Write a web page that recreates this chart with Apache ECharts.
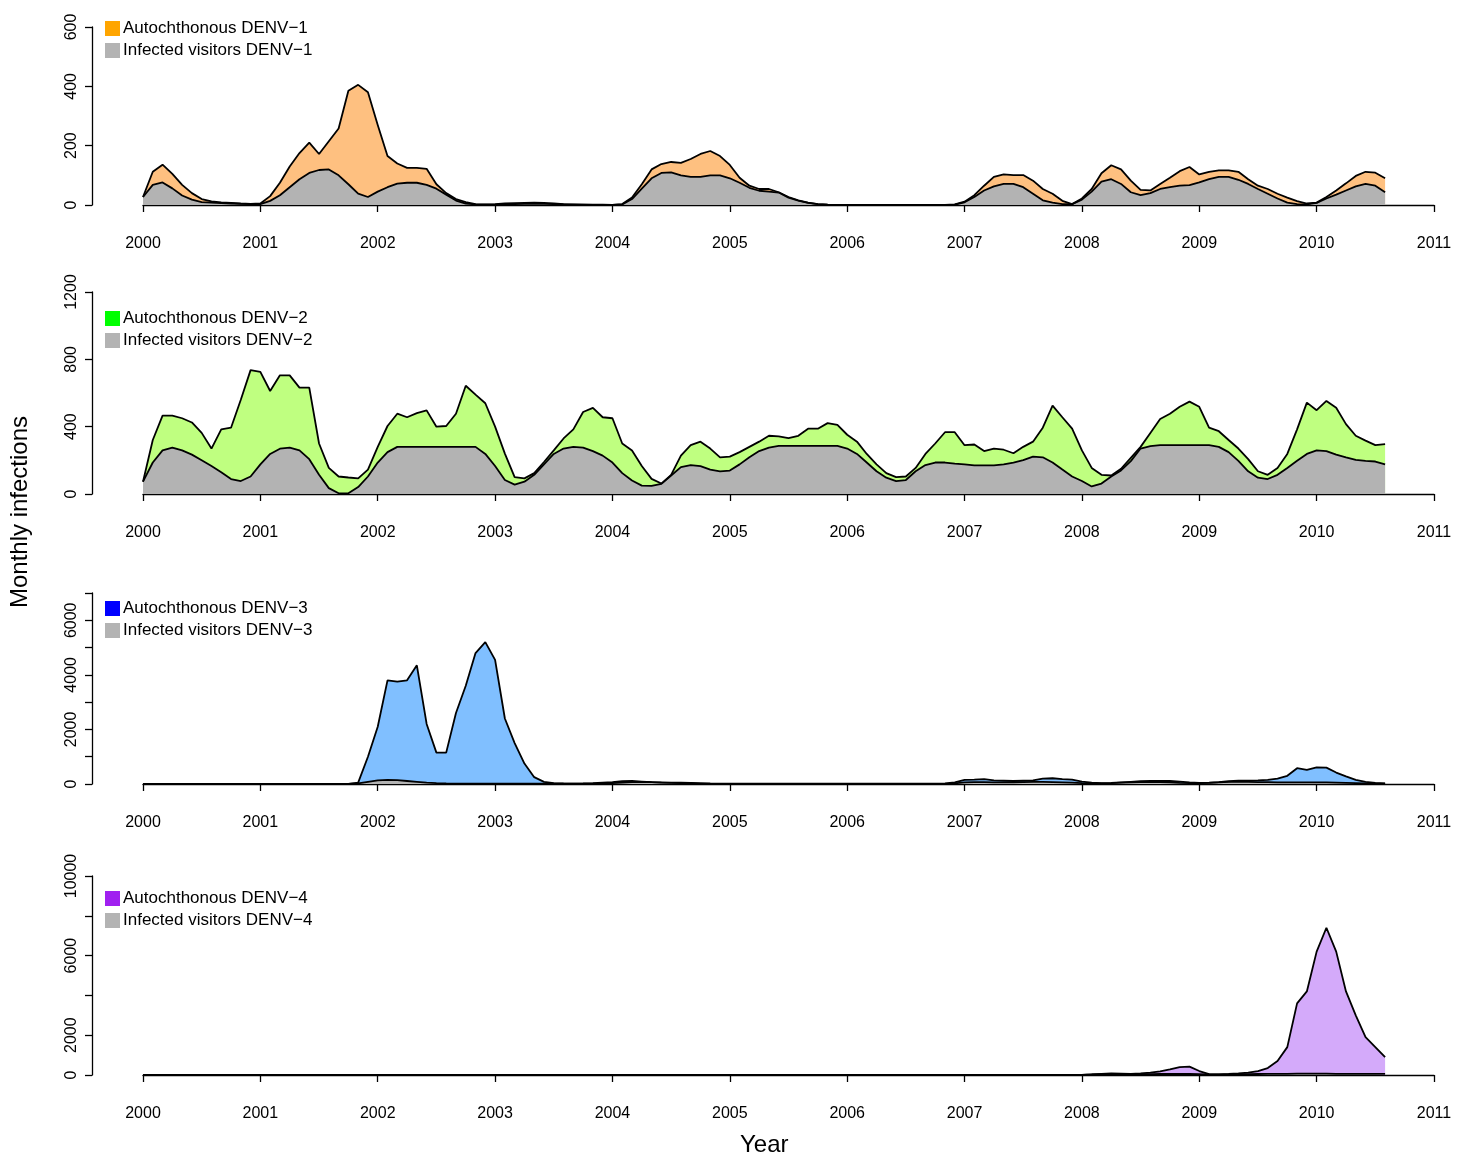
<!DOCTYPE html>
<html>
<head>
<meta charset="utf-8">
<script src="https://cdn.jsdelivr.net/npm/echarts@6/dist/echarts.min.js"></script>
<style>
html, body { margin: 0; padding: 0; background: #fff; }
#chart { width: 1468px; height: 1158px; }
</style>
</head>
<body>
<div id="chart"></div>
<script>
// monthly values, Jan 2000 .. Aug 2010 (128 months)
const startYear = 2000;
const xTicks = [2000, 2001, 2002, 2003, 2004, 2005, 2006, 2007, 2008, 2009, 2010, 2011];

// top line = autochthonous + visitors, bottom line = visitors
const totalDenv1 = [
    27, 112, 136, 105, 68, 40, 20, 12, 9, 7, 5, 4,
    5, 30, 75, 130, 175, 210, 172, 215, 258, 385, 405, 380,
    270, 165, 140, 125, 125, 122, 70, 40, 20, 10, 3, 2,
    3, 5, 6, 7, 8, 7, 5, 3, 2, 1, 1, 1,
    0, 3, 25, 70, 120, 138, 145, 142, 155, 172, 182, 165,
    135, 92, 65, 54, 54, 43, 27, 16, 8, 3, 1, 0,
    0, 0, 0, 0, 0, 0, 0, 0, 0, 0, 0, 2,
    11, 33, 65, 95, 103, 101, 101, 82, 54, 38, 14, 3,
    22, 54, 107, 134, 120, 82, 51, 49, 71, 92, 114, 128,
    103, 112, 117, 117, 112, 87, 65, 54, 38, 25, 13, 5,
    8, 27, 49, 73, 98, 112, 109, 90
];
const visitorsDenv1 = [
    27, 68, 76, 56, 32, 18, 10, 8, 6, 5, 4, 3,
    3, 14, 33, 60, 87, 108, 118, 120, 100, 70, 38, 27,
    45, 60, 72, 75, 75, 68, 55, 35, 15, 5, 2, 1,
    1, 2, 3, 4, 5, 4, 3, 2, 1, 1, 0, 0,
    0, 2, 20, 55, 90, 108, 110, 100, 95, 95, 100, 100,
    90, 75, 58, 48, 45, 42, 25, 15, 7, 3, 1, 0,
    0, 0, 0, 0, 0, 0, 0, 0, 0, 0, 0, 1,
    9, 27, 49, 63, 71, 71, 60, 38, 16, 8, 3, 3,
    18, 45, 79, 87, 71, 43, 33, 40, 54, 60, 65, 67,
    76, 87, 95, 95, 85, 71, 54, 38, 22, 8, 3, 2,
    7, 22, 35, 49, 63, 71, 65, 43
];

const totalDenv2 = [
    73, 321, 466, 466, 450, 425, 363, 270, 384, 394, 560, 736,
    726, 612, 705, 705, 632, 632, 300, 155, 104, 98, 93, 145,
    280, 404, 477, 456, 480, 497, 400, 404, 477, 643, 590, 539,
    400, 240, 100, 93, 124, 190, 259, 330, 384, 487, 512, 456,
    450, 300, 259, 166, 90, 62, 114, 228, 290, 311, 270, 218,
    222, 249, 280, 311, 346, 342, 332, 346, 388, 388, 421, 410,
    352, 311, 238, 176, 124, 100, 104, 155, 238, 300, 367, 367,
    290, 294, 255, 270, 263, 242, 280, 311, 394, 525, 456, 388,
    259, 155, 114, 110, 150, 215, 280, 363, 446, 477, 518, 549,
    518, 394, 373, 321, 270, 207, 135, 114, 155, 238, 384, 543,
    498, 553, 512, 415, 346, 317, 290, 296
];
const visitorsDenv2 = [
    73, 187, 259, 276, 259, 234, 201, 166, 129, 89, 77, 104,
    176, 238, 269, 276, 259, 207, 114, 35, 4, 4, 41, 104,
    187, 249, 280, 280, 280, 280, 280, 280, 280, 280, 280, 238,
    166, 83, 56, 73, 114, 176, 238, 270, 280, 276, 255, 228,
    187, 124, 80, 50, 48, 60, 110, 160, 172, 165, 145, 135,
    139, 176, 218, 255, 276, 286, 286, 286, 286, 286, 286, 286,
    270, 238, 187, 135, 97, 77, 83, 135, 172, 187, 187, 180,
    176, 170, 170, 170, 176, 187, 201, 222, 218, 187, 145, 104,
    77, 45, 62, 104, 140, 195, 270, 284, 290, 290, 290, 290,
    290, 290, 280, 249, 197, 135, 97, 89, 114, 155, 197, 238,
    259, 255, 234, 218, 203, 197, 193, 176
];

const totalDenv3 = [
    0, 0, 0, 0, 0, 0, 0, 0, 0, 0, 0, 0,
    0, 0, 0, 0, 0, 0, 0, 0, 0, 0, 50, 1000,
    2100, 3800, 3750, 3800, 4350, 2200, 1150, 1150, 2600, 3600, 4800, 5200,
    4550, 2400, 1500, 750, 250, 80, 30, 20, 15, 20, 30, 50,
    70, 100, 110, 90, 70, 60, 50, 45, 40, 30, 20, 15,
    10, 10, 10, 10, 10, 10, 10, 10, 10, 10, 10, 10,
    10, 10, 10, 10, 10, 10, 10, 10, 10, 10, 20, 60,
    150, 160, 180, 130, 120, 110, 120, 130, 200, 210, 180, 160,
    90, 50, 30, 40, 60, 80, 100, 110, 110, 110, 90, 60,
    40, 50, 70, 100, 120, 120, 130, 150, 200, 300, 580, 520,
    610, 600, 420, 280, 150, 80, 40, 20
];
const visitorsDenv3 = [
    0, 0, 0, 0, 0, 0, 0, 0, 0, 0, 0, 0,
    0, 0, 0, 0, 0, 0, 0, 0, 0, 0, 20, 80,
    130, 150, 140, 110, 80, 50, 30, 20, 15, 10, 10, 10,
    10, 10, 10, 10, 10, 10, 10, 10, 10, 10, 10, 10,
    30, 50, 70, 80, 70, 50, 40, 30, 20, 5, 5, 5,
    5, 5, 5, 5, 5, 5, 5, 5, 5, 5, 5, 5,
    5, 5, 5, 5, 5, 5, 5, 5, 5, 5, 5, 20,
    60, 70, 70, 60, 60, 60, 70, 80, 80, 70, 60, 50,
    30, 20, 20, 30, 50, 60, 70, 70, 70, 60, 40, 30,
    30, 40, 60, 80, 80, 80, 70, 70, 60, 60, 60, 60,
    60, 60, 50, 40, 30, 20, 10, 10
];

const totalDenv4 = [
    5, 5, 5, 5, 5, 5, 5, 5, 5, 5, 5, 5,
    5, 5, 5, 5, 5, 5, 5, 5, 5, 5, 5, 5,
    5, 5, 5, 5, 5, 5, 5, 5, 5, 5, 5, 5,
    5, 5, 5, 5, 5, 5, 5, 5, 5, 5, 5, 5,
    5, 5, 5, 5, 5, 5, 5, 5, 5, 5, 5, 5,
    5, 5, 5, 5, 5, 5, 5, 5, 5, 5, 5, 5,
    5, 5, 5, 5, 5, 5, 5, 5, 5, 5, 5, 5,
    5, 5, 5, 5, 5, 5, 5, 5, 5, 5, 5, 5,
    10, 30, 60, 80, 70, 60, 80, 120, 180, 280, 400, 420,
    200, 40, 30, 50, 80, 120, 200, 350, 700, 1400, 3600, 4200,
    6200, 7400, 6200, 4200, 3000, 1900, 1400, 900
];
const visitorsDenv4 = [
    5, 5, 5, 5, 5, 5, 5, 5, 5, 5, 5, 5,
    5, 5, 5, 5, 5, 5, 5, 5, 5, 5, 5, 5,
    5, 5, 5, 5, 5, 5, 5, 5, 5, 5, 5, 5,
    5, 5, 5, 5, 5, 5, 5, 5, 5, 5, 5, 5,
    5, 5, 5, 5, 5, 5, 5, 5, 5, 5, 5, 5,
    5, 5, 5, 5, 5, 5, 5, 5, 5, 5, 5, 5,
    5, 5, 5, 5, 5, 5, 5, 5, 5, 5, 5, 5,
    5, 5, 5, 5, 5, 5, 5, 5, 5, 5, 5, 5,
    10, 30, 40, 50, 50, 40, 40, 40, 50, 50, 50, 50,
    40, 30, 30, 30, 40, 40, 50, 60, 60, 60, 70, 70,
    70, 70, 60, 60, 60, 60, 60, 60
];

const panels = [
    { n: 1, total: totalDenv1, visitors: visitorsDenv1, max: 600, interval: 200, hide: [],
      color: '#FFA500', fill: '#FEC080', top: 27, bottom: 953, legendTop: 15 },
    { n: 2, total: totalDenv2, visitors: visitorsDenv2, max: 1200, interval: 400, hide: [],
      color: '#00FF00', fill: '#BFFF80', top: 292, bottom: 664, legendTop: 305 },
    { n: 3, total: totalDenv3, visitors: visitorsDenv3, max: 7000, interval: 1000, hide: [1000, 3000, 5000, 7000],
      color: '#0000FF', fill: '#80BFFF', top: 593, bottom: 374, legendTop: 595 },
    { n: 4, total: totalDenv4, visitors: visitorsDenv4, max: 10000, interval: 2000, hide: [4000, 8000],
      color: '#A020F0', fill: '#D4AAFA', top: 876, bottom: 83, legendTop: 885 }
];

const font = "'Liberation Sans', Arial, sans-serif";
const gray = '#B3B3B3';

function toPoints(vals) {
    return vals.map(function (v, i) { return [startYear + i / 12, v]; });
}

var grid = [], xAxis = [], yAxis = [], series = [], legend = [];
panels.forEach(function (p, k) {
    grid.push({ left: 143, right: 34, top: p.top, bottom: p.bottom });
    xAxis.push({
        type: 'value', gridIndex: k, min: xTicks[0], max: xTicks[xTicks.length - 1], interval: 1, offset: 8,
        axisLine: { lineStyle: { color: '#000', width: 1.3 } },
        axisTick: { length: 7, lineStyle: { color: '#000', width: 1.3 } },
        axisLabel: { color: '#000', fontSize: 16, fontFamily: font, margin: 23,
                     formatter: function (v) { return String(v); } },
        splitLine: { show: false }
    });
    yAxis.push({
        type: 'value', gridIndex: k, min: 0, max: p.max, interval: p.interval, offset: 51,
        axisLine: { show: true, lineStyle: { color: '#000', width: 1.3 } },
        axisTick: { show: true, length: 7, lineStyle: { color: '#000', width: 1.3 } },
        axisLabel: {
            color: '#000', fontSize: 16, fontFamily: font, rotate: 90, margin: 12,
            formatter: function (v) { return p.hide.indexOf(v) >= 0 ? '' : String(v); }
        },
        splitLine: { show: false }
    });
    var autoName = 'Autochthonous DENV\u2212' + p.n;
    var visName = 'Infected visitors DENV\u2212' + p.n;
    series.push({
        name: autoName, type: 'line', xAxisIndex: k, yAxisIndex: k,
        data: toPoints(p.total), showSymbol: false, symbol: 'none',
        itemStyle: { color: p.color },
        lineStyle: { color: '#000', width: 1.8 },
        areaStyle: { color: p.fill, opacity: 1 }
    });
    series.push({
        name: visName, type: 'line', xAxisIndex: k, yAxisIndex: k,
        data: toPoints(p.visitors), showSymbol: false, symbol: 'none',
        itemStyle: { color: gray },
        lineStyle: { color: '#000', width: 1.8 },
        areaStyle: { color: gray, opacity: 1 }
    });
    legend.push({
        data: [autoName, visName], orient: 'vertical', left: 100, top: p.legendTop,
        icon: 'rect', itemWidth: 15, itemHeight: 15, itemGap: 5, selectedMode: false,
        textStyle: { color: '#000', fontSize: 17, fontFamily: font, padding: [0, 0, 0, -2] }
    });
});

var chart = echarts.init(document.getElementById('chart'));
chart.setOption({
    animation: false,
    backgroundColor: '#fff',
    grid: grid,
    xAxis: xAxis,
    yAxis: yAxis,
    legend: legend,
    series: series,
    graphic: [
        { type: 'text', left: 740, top: 1133,
          style: { text: 'Year', fontSize: 24, fontFamily: font, fill: '#000' } },
        { type: 'text', x: 20, y: 512, rotation: Math.PI / 2,
          style: { text: 'Monthly infections', fontSize: 24, fontFamily: font, fill: '#000',
                   align: 'center', verticalAlign: 'middle' } }
    ]
});
</script>
</body>
</html>
